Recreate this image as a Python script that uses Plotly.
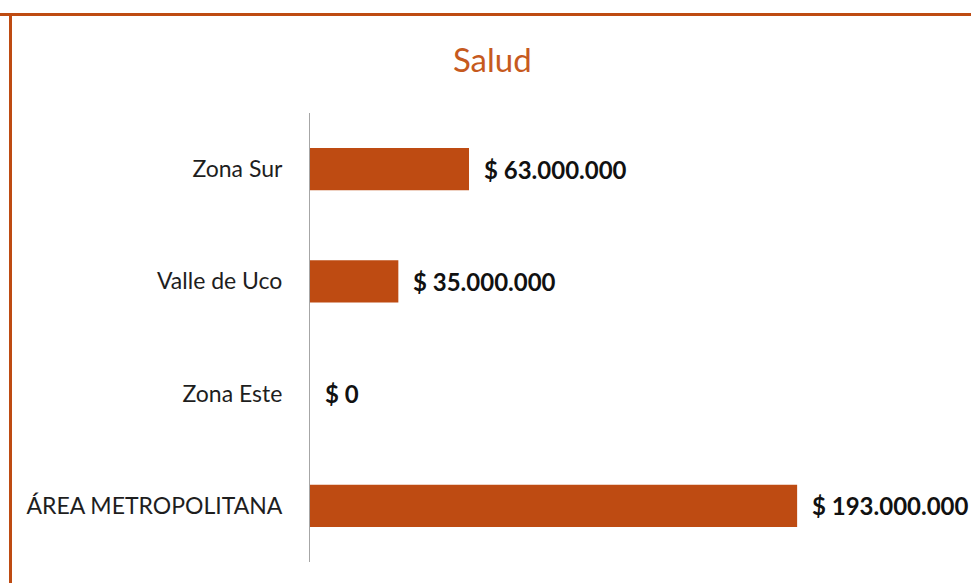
import plotly.graph_objects as go

categories = ["ÁREA METROPOLITANA", "Zona Este", "Valle de Uco", "Zona Sur"]
values = [193000000, 0, 35000000, 63000000]
title_text = "Salud"

ORANGE = "#BE4B12"
TITLE_ORANGE = "#C65A1E"

def fmt(v):
    return "$ " + f"{v:,}".replace(",", ".")

labels = [fmt(v) for v in values]

fig = go.Figure()
fig.add_trace(go.Bar(
    y=categories, x=values, orientation="h",
    marker=dict(color=ORANGE, line=dict(width=0)),
    hoverinfo="skip",
))

for c, v, t in zip(categories, values, labels):
    fig.add_annotation(x=v, y=c, xref="x", yref="y", text="<b>" + t + "</b>",
                       showarrow=False, xanchor="left", yanchor="middle",
                       xshift=13, font=dict(family="Lato", size=24, color="#111111"))

fig.update_layout(
    width=971, height=583,
    margin=dict(l=310, r=30, t=113, b=21),
    paper_bgcolor="white", plot_bgcolor="white",
    bargap=0.625,
    showlegend=False,
    title=dict(text=title_text, x=0.507, xanchor="center", y=1 - 60 / 583, yanchor="middle",
               yref="container", font=dict(family="Lato", size=33, color=TITLE_ORANGE)),
    xaxis=dict(range=[0, 250000000], showgrid=False, zeroline=False, showticklabels=False,
               showline=False, ticks=""),
    yaxis=dict(categoryorder="array", categoryarray=categories, showgrid=False,
               showline=True, linecolor="#A6A6A6", linewidth=1, ticks="",
               ticklabelstandoff=22,
               tickfont=dict(family="Lato", size=23, color="#1E1E1E")),
    shapes=[
        dict(type="line", xref="paper", yref="paper", x0=-310 / 631, x1=1 + 30 / 631,
             y0=1 + 98.5 / 449, y1=1 + 98.5 / 449, line=dict(color=ORANGE, width=3)),
        dict(type="line", xref="paper", yref="paper", x0=-299.5 / 631, x1=-299.5 / 631,
             y0=-21 / 449, y1=1 + 100 / 449, line=dict(color=ORANGE, width=3)),
    ],
)

fig.write_html("out.html", config={"displayModeBar": False},
               post_script="document.body.style.margin='0';document.body.style.overflow='hidden';")
